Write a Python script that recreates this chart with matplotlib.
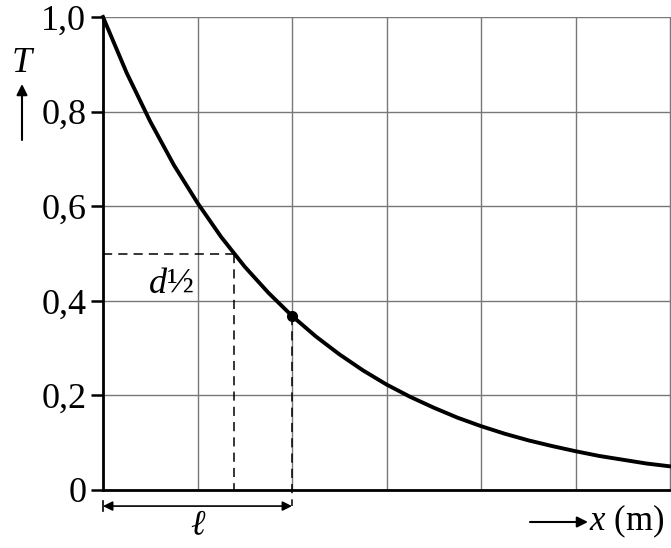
import matplotlib.pyplot as plt

# values (T against x in grid units)
x_vals = [0, 0.25, 0.5, 0.75, 1.0, 1.25, 1.5, 1.75, 2.0, 2.25, 2.5, 2.75, 3.0,
          3.25, 3.5, 3.75, 4.0, 4.25, 4.5, 4.75, 5.0, 5.25, 5.5, 5.75, 6.0]
t_vals = [1.000, 0.882, 0.779, 0.687, 0.607, 0.535, 0.472, 0.417, 0.368, 0.325,
          0.287, 0.253, 0.223, 0.197, 0.174, 0.153, 0.135, 0.119, 0.105, 0.093,
          0.082, 0.072, 0.064, 0.056, 0.050]
y_ticks = [0, 0.2, 0.4, 0.6, 0.8, 1.0]
y_labels = ['0', '0,2', '0,4', '0,6', '0,8', '1,0']
x_half = 1.39   # d1/2
x_ell = 2.0     # l
t_ell = 0.368

plt.rcParams['font.family'] = ['Liberation Serif', 'DejaVu Serif']
plt.rcParams['mathtext.fontset'] = 'custom'
plt.rcParams['mathtext.it'] = 'Liberation Serif:italic'
plt.rcParams['mathtext.rm'] = 'Liberation Serif'

fig = plt.figure(figsize=(6.71, 5.48), dpi=100)
ax = fig.add_axes([103 / 671, 58 / 548, 1 - 103 / 671, 473 / 548])

ax.set_xlim(0, 6.01)
ax.set_ylim(0, 1.0)
ax.set_xticks(range(7))
ax.set_xticklabels([])
ax.tick_params(axis='x', length=0)
ax.set_yticks(y_ticks)
ax.set_yticklabels(y_labels, fontsize=26)
ax.tick_params(axis='y', length=9, width=1.8, direction='out', pad=3)
ax.grid(True, color='#777777', linewidth=1.0)
ax.set_axisbelow(True)
for s in ['top', 'right']:
    ax.spines[s].set_visible(False)
for s in ['left', 'bottom']:
    ax.spines[s].set_linewidth(2.0)

ax.plot(x_vals, t_vals, color='black', linewidth=2.8, clip_on=False, zorder=5)
ax.plot([x_ell], [t_ell], 'o', color='black', markersize=7, zorder=6)

# dashed helper lines
dash = dict(color='black', linewidth=1.1, linestyle=(0, (6, 4)), zorder=4)
ax.plot([0, x_half], [0.5, 0.5], **dash)
ax.plot([x_half, x_half], [0.5, 0], **dash)
ax.plot([x_ell, x_ell], [t_ell, -0.034], clip_on=False, **dash)

ax.text(0.48, 0.47, '$d$½', fontsize=26, ha='left', va='top')

# l arrow below the axis
ax.annotate('', xy=(0, -0.034), xytext=(x_ell, -0.034),
            xycoords=('data', 'data'), annotation_clip=False,
            arrowprops=dict(arrowstyle='<|-|>', color='black', lw=1.2,
                            shrinkA=0, shrinkB=0, mutation_scale=14))
ax.plot([0, 0], [-0.045, -0.023], color='black', linewidth=1.2, clip_on=False)
ax.text(x_ell / 2, -0.075, 'ℓ', fontsize=25, style='italic', ha='center', va='center')

# axis labels with arrows
fig.text(22 / 671, 1 - 64 / 548, 'T', fontsize=26, style='italic', ha='center', va='center')
ax.annotate('', xy=(22 / 671, 1 - 84 / 548), xytext=(22 / 671, 1 - 140 / 548),
            xycoords='figure fraction',
            arrowprops=dict(arrowstyle='-|>', color='black', lw=1.5,
                            shrinkA=0, shrinkB=0, mutation_scale=16))
ax.annotate('', xy=(588 / 671, 1 - 522 / 548), xytext=(530 / 671, 1 - 522 / 548),
            xycoords='figure fraction',
            arrowprops=dict(arrowstyle='-|>', color='black', lw=1.5,
                            shrinkA=0, shrinkB=0, mutation_scale=16))
fig.text(589 / 671, 1 - 521 / 548, '$x$ (m)', fontsize=25, ha='left', va='center')

fig.savefig('out.png', dpi=100)
